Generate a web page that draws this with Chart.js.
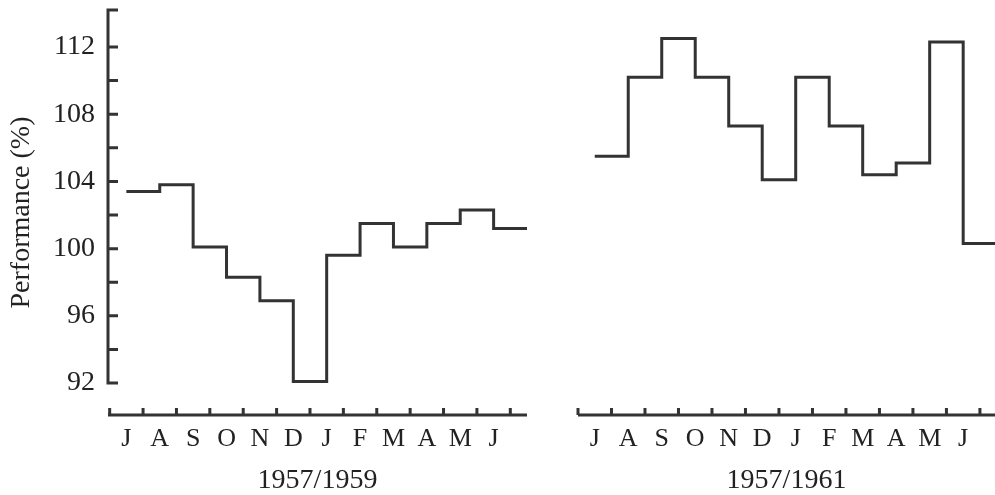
<!DOCTYPE html>
<html>
<head>
<meta charset="utf-8">
<script src="https://cdn.jsdelivr.net/npm/chart.js@4/dist/chart.umd.min.js"></script>
<style>
  body { margin: 0; background: #fff; }
  #wrap { position: relative; width: 995px; height: 495px; }
  #left { position: absolute; left: 0; top: 0; }
  #right { position: absolute; left: 540px; top: 0; }
</style>
</head>
<body>
<div id="wrap">
  <canvas id="left" width="540" height="495"></canvas>
  <canvas id="right" width="455" height="495"></canvas>
</div>
<script>
// month initials, July to June
var months = ['J', 'A', 'S', 'O', 'N', 'D', 'J', 'F', 'M', 'A', 'M', 'J'];
// performance (%)
var perf1959 = [103.4, 103.8, 100.1, 98.3, 96.9, 92.1, 99.6, 101.5, 100.1, 101.5, 102.3, 101.2];
var perf1961 = [105.5, 110.2, 112.5, 110.2, 107.3, 104.1, 110.2, 107.3, 104.4, 105.1, 112.3, 100.3];
var yLabels = [92, 96, 100, 104, 108, 112];
var panelTitles = ['1957/1959', '1957/1961'];

var ink = '#333';
var textColor = '#222';
var serif = "'Liberation Serif', 'DejaVu Serif', serif";

// step points: each month holds from its label to the next one
function stepPoints(values) {
    var pts = values.map(function (v, i) { return {x: i, y: v}; });
    pts.push({x: values.length, y: values[values.length - 1]});
    return pts;
}

// axis lines with inward tick marks, placed through the scales
var axisLines = {
    id: 'axisLines',
    afterDraw: function (chart, args, opts) {
        var ctx = chart.ctx, area = chart.chartArea;
        var xs = chart.scales.x, ys = chart.scales.y;
        ctx.save();
        ctx.strokeStyle = ink;
        ctx.lineWidth = 3;
        ctx.beginPath();
        ctx.moveTo(area.left, area.bottom);
        ctx.lineTo(area.right, area.bottom);
        for (var i = 0; i <= months.length; i++) {
            var px = xs.getPixelForValue(i - 0.5);
            if (px < area.left - 1 || px > area.right) continue;
            ctx.moveTo(px, area.bottom);
            ctx.lineTo(px, area.bottom - 7);
        }
        ctx.stroke();
        if (opts.showY) {
            var x0 = area.left;
            var lo = yLabels[0];
            ctx.beginPath();
            ctx.moveTo(x0, ys.getPixelForValue(lo) + 1.5);
            ctx.lineTo(x0, ys.getPixelForValue(ys.max) - 1.5);
            for (var v = lo; v <= yLabels[yLabels.length - 1]; v += 2) {
                var py = ys.getPixelForValue(v);
                ctx.moveTo(x0, py);
                ctx.lineTo(x0 + 10, py);
            }
            var top = ys.getPixelForValue(ys.max);
            ctx.moveTo(x0, top);
            ctx.lineTo(x0 + 10, top);
            ctx.stroke();
        }
        ctx.restore();
    }
};

function makeChart(id, values, title, xMin, xMax, showY) {
    return new Chart(document.getElementById(id), {
        type: 'line',
        data: {
            datasets: [{
                data: stepPoints(values),
                stepped: 'before',
                borderColor: ink,
                borderWidth: 3,
                pointRadius: 0,
                fill: false
            }]
        },
        options: {
            responsive: false,
            animation: false,
            layout: {padding: {top: 10, left: showY ? 0 : 38, right: showY ? 13 : 0, bottom: 0}},
            plugins: {
                legend: {display: false},
                tooltip: {enabled: false},
                axisLines: {showY: showY}
            },
            scales: {
                x: {
                    type: 'linear',
                    min: xMin,
                    max: xMax,
                    grid: {display: false, drawTicks: false},
                    border: {display: false},
                    afterBuildTicks: function (scale) {
                        scale.ticks = months.map(function (m, i) { return {value: i}; });
                    },
                    afterFit: function (scale) {
                        scale.height = 80;
                        scale.paddingLeft = 0;
                        scale.paddingRight = 0;
                    },
                    ticks: {
                        autoSkip: false,
                        maxRotation: 0,
                        padding: 11,
                        color: textColor,
                        font: {family: serif, size: 26, lineHeight: 1},
                        callback: function (v) { return months[v]; }
                    },
                    title: {
                        display: true,
                        text: title,
                        color: textColor,
                        padding: {top: 0, bottom: 0},
                        font: {family: serif, size: 28, lineHeight: 1}
                    }
                },
                y: {
                    display: showY,
                    min: 90.1,
                    max: 114.2,
                    grid: {display: false, drawTicks: false},
                    border: {display: false},
                    afterBuildTicks: function (scale) {
                        scale.ticks = yLabels.map(function (v) { return {value: v}; });
                    },
                    afterFit: function (scale) {
                        if (showY) scale.width = 108;
                        scale.paddingTop = 0;
                        scale.paddingBottom = 0;
                    },
                    ticks: {
                        padding: 13,
                        color: textColor,
                        font: {family: serif, size: 28, lineHeight: 1}
                    },
                    title: {
                        display: true,
                        text: 'Performance (%)',
                        color: textColor,
                        padding: {top: 8, bottom: 0},
                        font: {family: serif, size: 28, lineHeight: 1}
                    }
                }
            }
        },
        plugins: [axisLines]
    });
}

makeChart('left', perf1959, panelTitles[0], -0.55, 12, true);
makeChart('right', perf1961, panelTitles[1], -0.5, 11.95, false);
</script>
</body>
</html>
